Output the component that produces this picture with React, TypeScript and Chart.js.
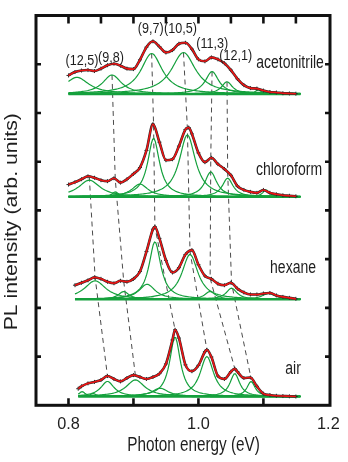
import React, { useEffect, useRef } from "react";
import { Chart, registerables } from "chart.js";

Chart.register(...registerables);

// ---------------- data ----------------
const solventNames = ["acetonitrile", "chloroform", "hexane", "air"];
const solventOffsets = [6.39, 4.28, 2.175, 0.18];

const acetonitrileEnergy = [0.80, 0.81, 0.82, 0.83, 0.84, 0.85, 0.86, 0.87, 0.88, 0.89, 0.90, 0.91, 0.92, 0.93, 0.94, 0.95, 0.96, 0.97, 0.98, 0.99, 1.00, 1.01, 1.02, 1.03, 1.04, 1.05, 1.06, 1.07, 1.08, 1.09, 1.10, 1.11, 1.12, 1.13, 1.14, 1.15];
const acetonitrileIntensity = [0.38, 0.45, 0.48, 0.49, 0.47, 0.52, 0.59, 0.62, 0.58, 0.52, 0.51, 0.70, 0.96, 1.08, 0.97, 0.85, 0.90, 1.03, 1.05, 0.92, 0.71, 0.67, 0.75, 0.71, 0.63, 0.49, 0.31, 0.18, 0.12, 0.11, 0.07, 0.04, 0.03, 0.015, 0.01, 0.005];

const chloroformEnergy = [0.80, 0.81, 0.82, 0.83, 0.84, 0.85, 0.86, 0.87, 0.88, 0.89, 0.90, 0.91, 0.92, 0.93, 0.94, 0.95, 0.96, 0.97, 0.98, 0.985, 0.99, 1.00, 1.01, 1.02, 1.03, 1.04, 1.05, 1.06, 1.07, 1.08, 1.09, 1.10, 1.11, 1.12, 1.13, 1.14, 1.15];
const chloroformIntensity = [0.25, 0.30, 0.36, 0.42, 0.39, 0.34, 0.32, 0.38, 0.29, 0.36, 0.47, 0.60, 0.95, 1.49, 1.12, 0.75, 0.77, 1.04, 1.38, 1.42, 1.29, 0.90, 0.71, 0.80, 0.67, 0.57, 0.44, 0.22, 0.14, 0.10, 0.08, 0.14, 0.08, 0.05, 0.03, 0.02, 0.01];

const hexaneEnergy = [0.81, 0.82, 0.83, 0.84, 0.85, 0.86, 0.87, 0.88, 0.89, 0.90, 0.91, 0.92, 0.93, 0.933, 0.94, 0.95, 0.96, 0.97, 0.98, 0.99, 1.00, 1.01, 1.02, 1.03, 1.04, 1.05, 1.06, 1.07, 1.08, 1.09, 1.10, 1.11, 1.12, 1.13, 1.14, 1.15];
const hexaneIntensity = [0.29, 0.34, 0.39, 0.45, 0.42, 0.36, 0.33, 0.38, 0.36, 0.42, 0.57, 0.98, 1.44, 1.49, 1.25, 0.80, 0.55, 0.65, 0.92, 1.01, 0.71, 0.48, 0.42, 0.32, 0.29, 0.34, 0.22, 0.14, 0.10, 0.10, 0.12, 0.13, 0.08, 0.05, 0.03, 0.01];

const airEnergy = [0.815, 0.82, 0.83, 0.84, 0.85, 0.86, 0.87, 0.88, 0.89, 0.90, 0.91, 0.92, 0.93, 0.94, 0.95, 0.96, 0.964, 0.97, 0.98, 0.99, 1.00, 1.01, 1.013, 1.02, 1.03, 1.04, 1.05, 1.056, 1.06, 1.07, 1.08, 1.09, 1.10, 1.11, 1.12, 1.13, 1.14, 1.15];
const airIntensity = [0.16, 0.21, 0.27, 0.30, 0.34, 0.42, 0.36, 0.31, 0.38, 0.44, 0.40, 0.36, 0.40, 0.47, 0.67, 1.16, 1.37, 1.20, 0.65, 0.52, 0.64, 0.92, 0.96, 0.81, 0.42, 0.36, 0.51, 0.57, 0.51, 0.38, 0.39, 0.21, 0.06, 0.03, 0.015, 0.01, 0.005, 0.0];

// Lorentzian fit components: centre (eV), height, FWHM (eV)
const acetonitrilePeakCenter = [0.813, 0.867, 0.928, 0.977, 1.021, 1.044, 1.092];
const acetonitrilePeakHeight = [0.34, 0.39, 0.83, 0.85, 0.46, 0.25, 0.08];
const acetonitrilePeakWidth = [0.045, 0.035, 0.04, 0.045, 0.025, 0.02, 0.012];

const chloroformPeakCenter = [0.832, 0.872, 0.910, 0.931, 0.983, 1.019, 1.045, 1.104];
const chloroformPeakHeight = [0.34, 0.10, 0.26, 1.20, 1.27, 0.51, 0.38, 0.14];
const chloroformPeakWidth = [0.04, 0.012, 0.03, 0.022, 0.03, 0.022, 0.02, 0.012];

const hexanePeakCenter = [0.841, 0.885, 0.921, 0.933, 0.987, 1.018, 1.051, 1.108];
const hexanePeakHeight = [0.38, 0.16, 0.31, 1.18, 0.92, 0.16, 0.23, 0.12];
const hexanePeakWidth = [0.04, 0.02, 0.03, 0.022, 0.03, 0.02, 0.02, 0.025];

const airPeakCenter = [0.821, 0.838, 0.860, 0.903, 0.941, 0.964, 1.013, 1.056, 1.081];
const airPeakHeight = [0.10, 0.06, 0.31, 0.34, 0.17, 1.22, 0.82, 0.47, 0.31];
const airPeakWidth = [0.012, 0.012, 0.025, 0.035, 0.03, 0.02, 0.025, 0.018, 0.015];

const fitEnd = 1.157;

// chirality labels and the component index of each chirality in every spectrum (-1 = not linked)
const chiralityLabels = ["(12,5)", "(9,8)", "(9,7)", "(10,5)", "(11,3)", "(12,1)"];
const chainAcetonitrile = [-1, 1, 2, 3, 4, 5];
const chainChloroform = [0, 1, 3, 4, 5, 6];
const chainHexane = [0, 1, 3, 4, 5, 6];
const chainAir = [2, 3, 5, 6, 7, 8];

// axis ticks
const xTickLabelValues = [0.8, 1.0, 1.2];
const xTickLabels = ["0.8", "1.0", "1.2"];
const bottomTickValues = [0.8, 0.9, 1.0, 1.1];
const topTickValues = [0.8, 0.85, 0.9, 0.95, 1.0, 1.05, 1.1, 1.15];
const yTickValues = [1, 2, 3, 4, 5, 6, 7];

// ---------------- layout / styles ----------------
const FONT = '"Liberation Sans", Arial, Helvetica, sans-serif';
const GREEN = "rgb(20,160,60)";
const RED = "rgb(238,20,20)";
const BLACK = "#2a2a2a";
const TEXT = "#1e1e1e";

const chiralityPlaceX = [0.8208, 0.8654, 0.9267, 0.9724, 1.0212, 1.0574];
const chiralityPlaceY = [6.984, 7.052, 7.635, 7.635, 7.327, 7.087];
const solventPlaceX = [1.141, 1.1394, 1.1456, 1.1456];
const solventPlaceY = [6.916, 4.727, 2.709, 0.642];

const spectraEnergy = [acetonitrileEnergy, chloroformEnergy, hexaneEnergy, airEnergy];
const spectraIntensity = [acetonitrileIntensity, chloroformIntensity, hexaneIntensity, airIntensity];
const peakCenters = [acetonitrilePeakCenter, chloroformPeakCenter, hexanePeakCenter, airPeakCenter];
const peakHeights = [acetonitrilePeakHeight, chloroformPeakHeight, hexanePeakHeight, airPeakHeight];
const peakWidths = [acetonitrilePeakWidth, chloroformPeakWidth, hexanePeakWidth, airPeakWidth];
const chains = [chainAcetonitrile, chainChloroform, chainHexane, chainAir];

function lorentz(x: number, c: number, h: number, w: number) {
  const g = w / 2;
  return (h * g * g) / ((x - c) * (x - c) + g * g);
}

function interpAt(xs: number[], ys: number[], x: number) {
  for (let i = 0; i < xs.length - 1; i++) {
    if (x >= xs[i] && x <= xs[i + 1]) {
      const t = (x - xs[i]) / (xs[i + 1] - xs[i]);
      return ys[i] + t * (ys[i + 1] - ys[i]);
    }
  }
  return ys[0];
}

function drawText(ctx: CanvasRenderingContext2D, text: string, x: number, y: number, size: number, sy: number) {
  ctx.save();
  ctx.translate(x, y);
  ctx.scale(1, sy);
  ctx.font = `${size}px ${FONT}`;
  ctx.textAlign = "center";
  ctx.textBaseline = "alphabetic";
  ctx.fillStyle = TEXT;
  ctx.fillText(text, 0, 0);
  ctx.restore();
}

const decorPlugin = {
  id: "decor",
  afterDraw(chart: any) {
    const { ctx, chartArea: a, scales } = chart;
    const xs = scales.x;
    const ys = scales.y;
    ctx.save();
    ctx.strokeStyle = "#111";
    ctx.lineCap = "butt";
    ctx.lineWidth = 2.6;
    ctx.beginPath();
    bottomTickValues.forEach((v) => {
      const p = xs.getPixelForValue(v);
      ctx.moveTo(p, a.bottom);
      ctx.lineTo(p, a.bottom - 7);
    });
    topTickValues.forEach((v) => {
      const p = xs.getPixelForValue(v);
      ctx.moveTo(p, a.top);
      ctx.lineTo(p, a.top + 8);
    });
    yTickValues.forEach((v) => {
      const p = ys.getPixelForValue(v);
      ctx.moveTo(a.left, p);
      ctx.lineTo(a.left + 5, p);
      ctx.moveTo(a.right, p);
      ctx.lineTo(a.right - 5, p);
    });
    ctx.stroke();
    ctx.lineWidth = 3;
    ctx.strokeRect(a.left, a.top, a.right - a.left, a.bottom - a.top);

    // tick labels
    xTickLabelValues.forEach((v, i) => {
      drawText(ctx, xTickLabels[i], xs.getPixelForValue(v), 429.3, 16.3, 1.03);
    });
    // axis titles
    drawText(ctx, "Photon energy (eV)", 193.5, 450.7, 15.3, 1.27);
    ctx.save();
    ctx.translate(16.5, 221.7);
    ctx.rotate(-Math.PI / 2);
    ctx.scale(1.18, 1);
    ctx.font = `18px ${FONT}`;
    ctx.textAlign = "center";
    ctx.textBaseline = "alphabetic";
    ctx.fillStyle = TEXT;
    ctx.fillText("PL intensity (arb. units)", 0, 0);
    ctx.restore();

    // chirality labels
    chiralityLabels.forEach((t, i) => {
      drawText(ctx, t, xs.getPixelForValue(chiralityPlaceX[i]), ys.getPixelForValue(chiralityPlaceY[i]), 12.6, 1.2);
    });
    // solvent labels
    solventNames.forEach((t, i) => {
      drawText(ctx, t, xs.getPixelForValue(solventPlaceX[i]), ys.getPixelForValue(solventPlaceY[i]), 14, 1.35);
    });
    ctx.restore();
  },
};

export default function App() {
  const ref = useRef<HTMLCanvasElement | null>(null);

  useEffect(() => {
    document.body.style.margin = "0";
    const canvas = ref.current;
    if (!canvas) return;
    const datasets: any[] = [];

    solventNames.forEach((name, s) => {
      const off = solventOffsets[s];
      const en = spectraEnergy[s];
      const it = spectraIntensity[s];
      const start = en[0];
      // baseline
      datasets.push({
        label: name + " baseline",
        data: [{ x: start, y: off }, { x: fitEnd, y: off }],
        borderColor: GREEN,
        borderWidth: 2.6,
        pointRadius: 0,
        order: 6,
      });
      // components
      peakCenters[s].forEach((c, k) => {
        const h = peakHeights[s][k];
        const w = peakWidths[s][k];
        const pts: { x: number; y: number }[] = [];
        const n = Math.round((fitEnd - start) / 0.002);
        for (let i = 0; i <= n; i++) {
          const x = start + ((fitEnd - start) * i) / n;
          pts.push({ x, y: off + lorentz(x, c, h, w) });
        }
        datasets.push({
          label: name + " peak " + k,
          data: pts,
          borderColor: GREEN,
          borderWidth: 1.2,
          pointRadius: 0,
          order: 5,
        });
      });
      const measured = en.map((x, i) => ({ x, y: off + it[i] }));
      datasets.push({
        label: name + " data",
        data: measured,
        borderColor: BLACK,
        borderWidth: 2.6,
        pointStyle: "cross",
        pointRadius: 2,
        pointBorderWidth: 1,
        pointBorderColor: BLACK,
        cubicInterpolationMode: "monotone",
        order: 2,
      });
      datasets.push({
        label: name + " fit",
        data: measured,
        borderColor: RED,
        borderWidth: 1.6,
        pointRadius: 0,
        cubicInterpolationMode: "monotone",
        order: 1,
      });
    });

    // dashed guide lines linking the same chirality across spectra
    chiralityLabels.forEach((lab, j) => {
      const pts: { x: number; y: number }[] = [];
      chains.forEach((chain, s) => {
        const k = chain[j];
        if (k < 0) return;
        const c = peakCenters[s][k];
        const y = s === 0 ? solventOffsets[s] + peakHeights[s][k] : solventOffsets[s] + interpAt(spectraEnergy[s], spectraIntensity[s], c);
        pts.push({ x: c, y });
      });
      datasets.push({
        label: lab + " guide",
        data: pts,
        borderColor: "#4a4a4a",
        borderWidth: 1,
        borderDash: [5, 4],
        pointRadius: 0,
        order: 10,
      });
    });

    const chart = new Chart(canvas, {
      type: "line",
      data: { datasets },
      options: {
        animation: false,
        responsive: false,
        maintainAspectRatio: false,
        layout: { padding: { left: 36, right: 18, top: 15.5, bottom: 56.7 } },
        plugins: { legend: { display: false }, tooltip: { enabled: false } },
        scales: {
          x: { type: "linear", min: 0.75, max: 1.2025, display: false },
          y: { type: "linear", min: 0, max: 8, display: false },
        },
      },
      plugins: [decorPlugin],
    });
    return () => chart.destroy();
  }, []);

  return <canvas ref={ref} width={348} height={462} style={{ display: "block", width: 348, height: 462 }} />;
}
